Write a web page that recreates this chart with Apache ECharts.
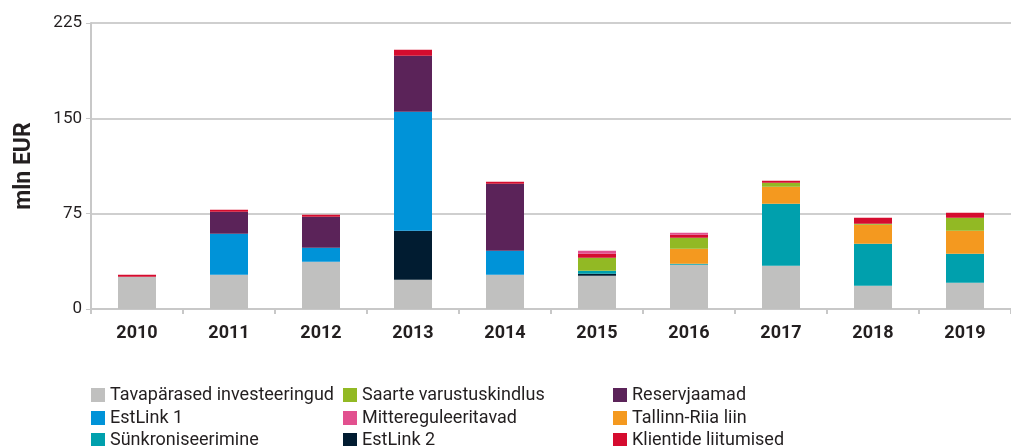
<!DOCTYPE html>
<html>
<head>
<meta charset="utf-8">
<script src="https://cdn.jsdelivr.net/npm/echarts@6/dist/echarts.min.js"></script>
<style>
  html, body { margin: 0; padding: 0; background: #fff; }
  #chart { width: 1011px; height: 446px; }
</style>
</head>
<body>
<div id="chart"></div>
<script>
var years = ["2010", "2011", "2012", "2013", "2014", "2015", "2016", "2017", "2018", "2019"];
var yTicks = [0, 75, 150, 225];

// series values, bottom to top of each stack
var tavaparased = [25.4, 27, 37.2, 23.1, 27, 26.2, 34.8, 34.1, 18.3, 20.7];
var estlink2 = [0, 0, 0, 38.5, 0, 1.6, 0, 0, 0, 0];
var estlink1 = [0, 32.2, 11, 93.6, 18.9, 0, 0, 0, 0, 0];
var synkroniseerimine = [0, 0, 0, 0, 0, 2.3, 0.8, 48.7, 33.1, 22.8];
var tallinnRiia = [0, 0, 0, 0, 0, 0, 11.8, 13.4, 14.9, 18.1];
var saarte = [0, 0, 0, 0, 0, 10.3, 8.7, 3.2, 0.8, 10.2];
var reservjaamad = [0, 17.3, 24.4, 44.1, 52.7, 0, 0, 0, 0, 0];
var klientide = [1.6, 1.6, 1.6, 4.7, 1.6, 3.1, 2.4, 1.5, 4.7, 4.0];
var mittereguleeritavad = [0, 0, 0, 0, 0, 2.4, 1.5, 0, 0, 0];

// legend grid: columns left to right, rows top to bottom
var legendCols = [
  ["Tavapärased investeeringud", "EstLink 1", "Sünkroniseerimine"],
  ["Saarte varustuskindlus", "Mittereguleeritavad", "EstLink 2"],
  ["Reservjaamad", "Tallinn-Riia liin", "Klientide liitumised"]
];

var txt = "#231f20";
var font = "Roboto, 'Liberation Sans', sans-serif";

function bar(name, color, data) {
  return {
    name: name,
    type: "bar",
    stack: "total",
    barWidth: 38,
    itemStyle: { color: color },
    data: data
  };
}

var colLeft = [91, 343, 613];
var rowTop = [386, 409, 431];
var legends = [];
legendCols.forEach(function (names, c) {
  names.forEach(function (n, r) {
    legends.push({
      left: colLeft[c],
      top: rowTop[r],
      padding: 0,
      itemWidth: 14,
      itemHeight: 14,
      icon: "rect",
      selectedMode: false,
      textStyle: { color: txt, fontSize: 18, lineHeight: 14, fontFamily: font },
      data: [n]
    });
  });
});

var chart = echarts.init(document.getElementById("chart"));
chart.setOption({
  animation: false,
  grid: { left: 91, right: 0, top: 23, bottom: 137 },
  legend: legends,
  xAxis: {
    type: "category",
    data: years,
    axisLine: { lineStyle: { color: "#c8c8c8", width: 2 } },
    axisTick: { show: true, length: 5, lineStyle: { color: "#c8c8c8", width: 2 } },
    axisLabel: { color: txt, fontSize: 18, fontWeight: "bold", fontFamily: font, margin: 15 }
  },
  yAxis: {
    type: "value",
    min: yTicks[0],
    max: yTicks[yTicks.length - 1],
    interval: yTicks[1] - yTicks[0],
    name: "mln EUR",
    nameLocation: "middle",
    nameRotate: 90,
    nameGap: 55,
    nameTextStyle: { color: txt, fontSize: 23, fontWeight: "bold", fontFamily: font },
    axisLine: { show: true, lineStyle: { color: "#c8c8c8", width: 2 } },
    axisTick: { show: true, length: 5, lineStyle: { color: "#c8c8c8", width: 1 } },
    axisLabel: { color: txt, fontSize: 17, fontFamily: font, margin: 9 },
    splitLine: { lineStyle: { color: "#cfcfcf", width: 2 } }
  },
  series: [
    bar("Tavapärased investeeringud", "#c0c0bf", tavaparased),
    bar("EstLink 2", "#011c31", estlink2),
    bar("EstLink 1", "#0093d8", estlink1),
    bar("Sünkroniseerimine", "#00a0ad", synkroniseerimine),
    bar("Tallinn-Riia liin", "#f4991f", tallinnRiia),
    bar("Saarte varustuskindlus", "#92b924", saarte),
    bar("Reservjaamad", "#5b2359", reservjaamad),
    bar("Klientide liitumised", "#d50c2f", klientide),
    bar("Mittereguleeritavad", "#e2508f", mittereguleeritavad)
  ]
});
</script>
</body>
</html>
